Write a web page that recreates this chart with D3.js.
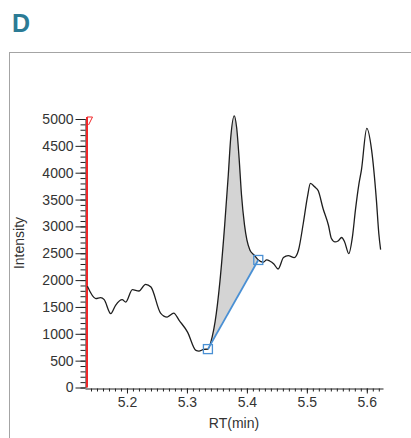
<!DOCTYPE html>
<html>
<head>
<meta charset="utf-8">
<script src="https://cdn.jsdelivr.net/npm/d3@7"></script>
<style>
  body { margin: 0; background: #fff; }
  svg { display: block; font-family: "Liberation Sans", Arial, sans-serif; }
</style>
</head>
<body>
<svg id="drawing_region"></svg>
<script>
// retention time (min) and intensity
const rt = [5.134, 5.148, 5.156, 5.162, 5.173, 5.181, 5.192, 5.198, 5.209, 5.220,
    5.231, 5.240, 5.256, 5.267, 5.278, 5.287, 5.301, 5.315, 5.320, 5.328,
    5.335, 5.342, 5.347, 5.355, 5.363, 5.369, 5.373, 5.379, 5.383, 5.387,
    5.391, 5.396, 5.400, 5.405, 5.412, 5.419, 5.427, 5.433, 5.438, 5.445,
    5.452, 5.461, 5.469, 5.479, 5.486, 5.494, 5.501, 5.506, 5.513, 5.519,
    5.527, 5.536, 5.541, 5.547, 5.552, 5.558, 5.563, 5.570, 5.576, 5.581,
    5.587, 5.591, 5.600, 5.608, 5.616, 5.620, 5.623];
const intensity = [1884, 1655, 1673, 1636, 1375, 1530, 1636, 1591, 1823, 1797,
    1922, 1871, 1386, 1312, 1386, 1250, 1032, 690, 677, 709,
    715, 938, 1226, 1972, 3028, 3961, 4645, 5060, 4832, 4272,
    3588, 3028, 2748, 2562, 2468, 2375, 2332, 2375, 2356, 2300,
    2207, 2420, 2457, 2420, 2556, 3054, 3550, 3800, 3737, 3662,
    3334, 3022, 2774, 2711, 2729, 2793, 2711, 2494, 2804, 3302,
    3800, 4049, 4826, 4422, 3489, 2868, 2569];

// integrated peak: baseline start and end points
const peakStart = [5.335, 715];
const peakEnd = [5.419, 2375];

const yTicks = [0, 500, 1000, 1500, 2000, 2500, 3000, 3500, 4000, 4500, 5000];
const xTicks = [5.2, 5.3, 5.4, 5.5, 5.6];

const data = rt.map((t, i) => ({ rt: t, v: intensity[i] }));

const svg = d3.select('#drawing_region')
    .attr('width', 411)
    .attr('height', 438);

// panel title
svg.append('text')
    .attr('x', 12)
    .attr('y', 32)
    .attr('fill', '#2b7b95')
    .style('font-size', '25px')
    .style('font-weight', 'bold')
    .text('D');

// panel frame
svg.append('rect')
    .attr('x', 9.5)
    .attr('y', 52.5)
    .attr('width', 430)
    .attr('height', 430)
    .attr('fill', 'none')
    .attr('stroke', '#a4a4a4');

const xscale = d3.scaleLinear()
    .domain([5.13, 5.627])
    .range([85, 383]);

const yscale = d3.scaleLinear()
    .domain([0, 5000])
    .range([387.5, 119]);

// minor ticks
svg.append('g')
    .attr('transform', 'translate(85.5,0)')
    .call(d3.axisLeft(yscale).tickValues(d3.range(0, 5001, 100)).tickSize(5).tickSizeOuter(0).tickFormat(''))
    .call(g => g.selectAll('line').attr('stroke', '#222'))
    .call(g => g.select('.domain').attr('stroke', '#222'));

svg.append('g')
    .attr('transform', 'translate(0,388.5)')
    .call(d3.axisBottom(xscale).tickValues(d3.range(514, 563).map(d => d / 100)).tickSize(3).tickSizeOuter(0).tickFormat(''))
    .call(g => g.selectAll('line').attr('stroke', '#222'))
    .call(g => g.select('.domain').attr('stroke', '#222'));

// major ticks
const yaxis = svg.append('g')
    .attr('transform', 'translate(85.5,0)')
    .call(d3.axisLeft(yscale).tickValues(yTicks).tickSize(10).tickPadding(2).tickSizeOuter(0).tickFormat(d3.format('d')));
yaxis.select('.domain').remove();
yaxis.selectAll('line').attr('stroke', '#222');
yaxis.selectAll('text')
    .attr('fill', '#333')
    .style('font-size', '14px')
    .style('font-family', '"Liberation Sans", Arial, sans-serif');

const xaxis = svg.append('g')
    .attr('transform', 'translate(0,388.5)')
    .call(d3.axisBottom(xscale).tickValues(xTicks).tickSize(5).tickPadding(4).tickSizeOuter(0).tickFormat(d3.format('.1f')));
xaxis.select('.domain').remove();
xaxis.selectAll('line').attr('stroke', '#222');
xaxis.selectAll('text')
    .attr('fill', '#333')
    .style('font-size', '14px')
    .style('font-family', '"Liberation Sans", Arial, sans-serif');

// axis titles
svg.append('text')
    .attr('transform', 'translate(24,243) rotate(-90)')
    .attr('text-anchor', 'middle')
    .attr('fill', '#333')
    .style('font-size', '14px')
    .text('Intensity');

svg.append('text')
    .attr('x', 234)
    .attr('y', 428)
    .attr('text-anchor', 'middle')
    .attr('fill', '#333')
    .style('font-size', '14px')
    .text('RT(min)');

// red marker line
svg.append('line')
    .attr('x1', 87).attr('x2', 87)
    .attr('y1', yscale(5000) - 2).attr('y2', yscale(0))
    .attr('stroke', '#f0282a')
    .attr('stroke-width', 2);
svg.append('path')
    .attr('d', `M87,${yscale(5000) - 2}H92.5L88.5,${yscale(5000) + 6}`)
    .attr('fill', 'none')
    .attr('stroke', '#f0282a')
    .attr('stroke-width', 1);

// shaded peak area between the trace and the baseline
const base = d3.scaleLinear()
    .domain([peakStart[0], peakEnd[0]])
    .range([peakStart[1], peakEnd[1]]);
const peakData = data.filter(d => d.rt >= peakStart[0] && d.rt <= peakEnd[0]);

svg.append('path')
    .datum(peakData)
    .attr('fill', '#d4d4d4')
    .attr('d', d3.area()
        .x(d => xscale(d.rt))
        .y0(d => yscale(base(d.rt)))
        .y1(d => yscale(d.v))
        .curve(d3.curveMonotoneX));

// chromatogram trace
svg.append('path')
    .datum(data)
    .attr('fill', 'none')
    .attr('stroke', '#1e1e1e')
    .attr('stroke-width', 1.3)
    .attr('d', d3.line()
        .x(d => xscale(d.rt))
        .y(d => yscale(d.v))
        .curve(d3.curveMonotoneX));

// baseline
svg.append('line')
    .attr('x1', xscale(peakStart[0])).attr('y1', yscale(peakStart[1]))
    .attr('x2', xscale(peakEnd[0])).attr('y2', yscale(peakEnd[1]))
    .attr('stroke', '#4a90d4')
    .attr('stroke-width', 1.8);

svg.selectAll('rect.marker')
    .data([peakStart, peakEnd])
    .enter()
    .append('rect')
    .attr('class', 'marker')
    .attr('x', d => xscale(d[0]) - 4.5)
    .attr('y', d => yscale(d[1]) - 4.5)
    .attr('width', 9)
    .attr('height', 9)
    .attr('fill', 'none')
    .attr('stroke', '#4a90d4')
    .attr('stroke-width', 1.3);
</script>
</body>
</html>
